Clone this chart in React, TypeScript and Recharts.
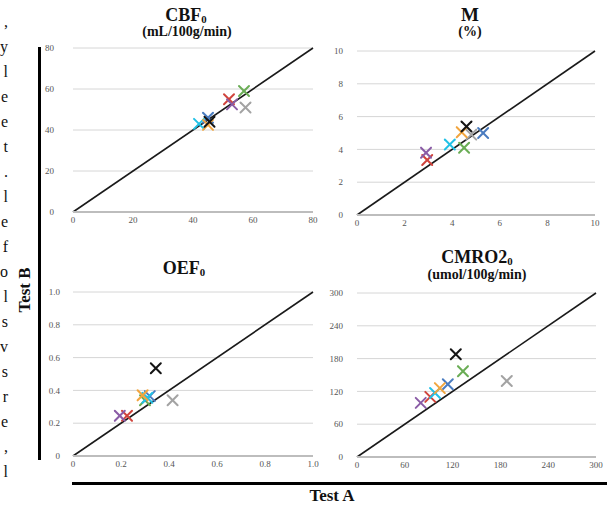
import React from 'react';
import {
  ScatterChart,
  Scatter,
  XAxis,
  YAxis,
  CartesianGrid,
  ReferenceLine,
  Cell
} from 'recharts';

// subjects, in the order the colours are listed
const subjectColors = ['#d0443c', '#6aad55', '#a3a3a3', '#8a5ca6', '#4a7cc0', '#22c1e6', '#f2a53e', '#141414'];

const cbfA = [52, 57, 57.5, 53, 45, 42, 45, 45.5];
const cbfB = [55, 59, 51, 52.5, 46, 43, 42.5, 44];
const cbfTicks = [0, 20, 40, 60, 80];

const mA = [2.95, 4.5, 4.8, 2.9, 5.3, 3.9, 4.4, 4.6];
const mB = [3.35, 4.1, 4.9, 3.8, 5.0, 4.3, 5.05, 5.4];
const mTicks = [0, 2, 4, 6, 8, 10];

const oefA = [0.225, 0.3, 0.415, 0.195, 0.32, 0.31, 0.29, 0.345];
const oefB = [0.245, 0.34, 0.34, 0.245, 0.365, 0.355, 0.37, 0.535];
const oefTicks = [0, 0.2, 0.4, 0.6, 0.8, 1.0];

const cmroA = [92, 133, 188, 80, 114, 98, 104, 124];
const cmroB = [110, 157, 139, 99, 133, 117, 126, 188];
const cmroTicks = [0, 60, 120, 180, 240, 300];

// text column cut off at the left edge of the page
const edgeLetters = [',', 'y', 'l', 'e', 'e', 't', '.', 'l', 'e', 'f', 'o', 'l', 's', 'v', 's', 'r', 'e', ',', 'l'];

const SERIF = '"Liberation Serif", "Times New Roman", serif';

const Cross = (props: any) => {
  const { cx, cy, payload } = props;
  if (cx == null || cy == null) return null;
  const s = 5;
  return (
    <g stroke={payload.color} strokeWidth={2} strokeLinecap="round">
      <line x1={cx - s} y1={cy - s} x2={cx + s} y2={cy + s} />
      <line x1={cx - s} y1={cy + s} x2={cx + s} y2={cy - s} />
    </g>
  );
};

interface PanelProps {
  box: [number, number, number, number];
  plot: [number, number, number, number];
  xs: number[];
  ys: number[];
  ticks: number[];
  fmt?: (v: number) => string;
  yTickGap: number;
}

const Panel = ({ box, plot, xs, ys, ticks, fmt, yTickGap }: PanelProps) => {
  const [bx, by, bw, bh] = box;
  const [pl, pt, pr, pb] = plot;
  const yW = 40;
  const xH = 20;
  const max = ticks[ticks.length - 1];
  const data = xs.map((x, i) => ({ x, y: ys[i], color: subjectColors[i] }));
  const tickStyle = { fontSize: 9, fill: '#555', fontFamily: SERIF };
  return (
    <div style={{ position: 'absolute', left: bx, top: by }}>
      <ScatterChart
        width={bw}
        height={bh}
        margin={{ left: pl - bx - yW, top: pt - by, right: bx + bw - pr, bottom: by + bh - pb - xH }}
      >
        <CartesianGrid vertical={false} stroke="#d6d6d6" horizontalValues={ticks} />
        <XAxis
          type="number"
          dataKey="x"
          domain={[0, max]}
          ticks={ticks}
          tickFormatter={fmt}
          height={xH}
          tick={tickStyle}
          tickLine={false}
          tickSize={4}
          tickMargin={1}
          stroke="#bdbdbd"
          strokeWidth={2}
          interval={0}
        />
        <YAxis
          type="number"
          dataKey="y"
          domain={[0, max]}
          ticks={ticks}
          tickFormatter={fmt}
          width={yW}
          tick={tickStyle}
          tickLine={false}
          axisLine={false}
          tickSize={6}
          tickMargin={yTickGap}
          interval={0}
        />
        <ReferenceLine
          segment={[{ x: 0, y: 0 }, { x: max, y: max }]}
          stroke="#1a1a1a"
          strokeWidth={1.6}
        />
        <Scatter data={data} shape={Cross} isAnimationActive={false}>
          {data.map((d, i) => (
            <Cell key={i} fill={d.color} />
          ))}
        </Scatter>
      </ScatterChart>
    </div>
  );
};

const Title = ({ x, y, size, children }: { x: number; y: number; size: number; children: React.ReactNode }) => (
  <div
    style={{
      position: 'absolute',
      left: x - 120,
      top: y,
      width: 240,
      textAlign: 'center',
      fontFamily: SERIF,
      fontWeight: 'bold',
      fontSize: size,
      lineHeight: 1,
      color: '#111',
      whiteSpace: 'nowrap'
    }}
  >
    {children}
  </div>
);

const sub = (t: string) => <span style={{ fontSize: '0.6em', position: 'relative', top: '0.15em' }}>{t}</span>;

export default function App() {
  const oefFmt = (v: number) => (v === 0 ? '0' : v.toFixed(1));
  return (
    <div
      style={{
        position: 'absolute',
        left: 0,
        top: 0,
        width: 610,
        height: 506,
        background: '#fff',
        overflow: 'hidden',
        fontFamily: SERIF
      }}
    >
      {edgeLetters.map((c, i) => (
        <div
          key={i}
          style={{
            position: 'absolute',
            right: 602,
            top: 14 + i * 25,
            fontSize: 16,
            lineHeight: 1,
            color: '#111',
            fontFamily: SERIF
          }}
        >
          {c}
        </div>
      ))}

      <Panel box={[0, 0, 330, 240]} plot={[73, 48, 313, 212]} xs={cbfA} ys={cbfB} ticks={cbfTicks} yTickGap={13} />
      <Panel box={[300, 0, 310, 240]} plot={[357, 51, 595, 215]} xs={mA} ys={mB} ticks={mTicks} yTickGap={8} />
      <Panel box={[0, 250, 330, 240]} plot={[73, 292, 313, 456]} xs={oefA} ys={oefB} ticks={oefTicks} fmt={oefFmt} yTickGap={7} />
      <Panel box={[300, 250, 310, 240]} plot={[357, 293, 596, 457]} xs={cmroA} ys={cmroB} ticks={cmroTicks} yTickGap={8} />

      <Title x={186} y={6} size={18}>CBF{sub('0')}</Title>
      <Title x={187} y={25} size={14}>(mL/100g/min)</Title>
      <Title x={470} y={5} size={19}>M</Title>
      <Title x={470} y={25} size={14}>(%)</Title>
      <Title x={184} y={259} size={18}>OEF{sub('0')}</Title>
      <Title x={477} y={248} size={18}>CMRO2{sub('0')}</Title>
      <Title x={477} y={268} size={14}>(umol/100g/min)</Title>

      <div style={{ position: 'absolute', left: 38, top: 47, width: 3, height: 413, background: '#000' }} />
      <div style={{ position: 'absolute', left: 72, top: 482, width: 535, height: 3, background: '#000' }} />

      <div
        style={{
          position: 'absolute',
          left: 25 - 40,
          top: 290 - 10,
          width: 80,
          height: 20,
          lineHeight: '20px',
          textAlign: 'center',
          transform: 'rotate(-90deg)',
          fontWeight: 'bold',
          fontSize: 17,
          color: '#111'
        }}
      >
        Test B
      </div>
      <div
        style={{
          position: 'absolute',
          left: 332 - 60,
          top: 487,
          width: 120,
          textAlign: 'center',
          fontWeight: 'bold',
          fontSize: 17,
          lineHeight: '18px',
          color: '#111'
        }}
      >
        Test A
      </div>
    </div>
  );
}
